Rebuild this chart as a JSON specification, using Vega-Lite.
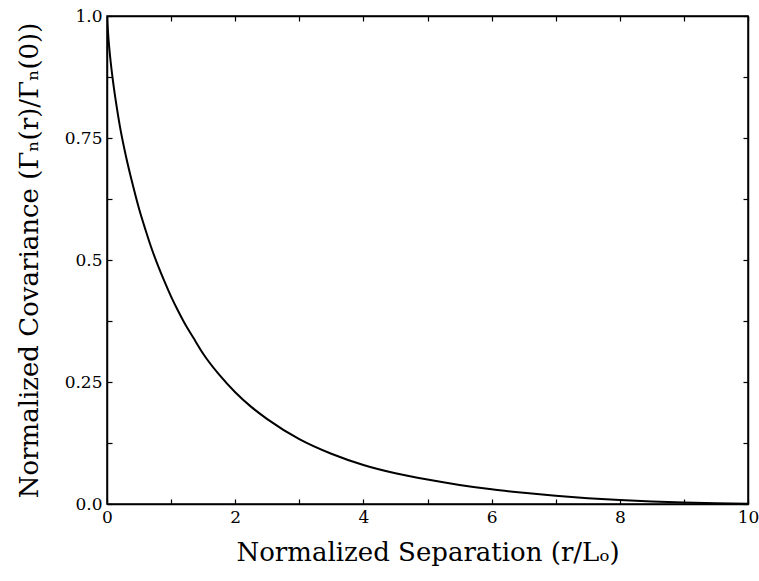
{
  "$schema": "https://vega.github.io/schema/vega-lite/v6.json",
  "autosize": "none",
  "width": 641,
  "height": 488,
  "padding": {"left": 107, "top": 16, "right": 11, "bottom": 77},
  "background": "white",
  "config": {
    "view": {"stroke": "black", "strokeWidth": 1.5},
    "font": "DejaVu Serif",
    "axis": {
      "domain": true, "domainColor": "black", "domainWidth": 1.5,
      "grid": false, "tickColor": "black", "tickSize": -5, "tickWidth": 1.2,
      "labelFont": "DejaVu Serif", "labelFontSize": 17, "labelColor": "black",
      "titleFont": "DejaVu Serif", "titleFontSize": 26, "titleFontWeight": "normal", "titleColor": "black"
    }
  },
  "data": {"values": [
    {"r": 0, "c": 1.0},
    {"r": 0.025, "c": 0.95},
    {"r": 0.05, "c": 0.915},
    {"r": 0.1, "c": 0.86},
    {"r": 0.15, "c": 0.815},
    {"r": 0.2, "c": 0.775},
    {"r": 0.3, "c": 0.71},
    {"r": 0.4, "c": 0.655},
    {"r": 0.5, "c": 0.605},
    {"r": 0.6, "c": 0.562},
    {"r": 0.7, "c": 0.522},
    {"r": 0.8, "c": 0.487},
    {"r": 0.9, "c": 0.455},
    {"r": 1.0, "c": 0.425},
    {"r": 1.1, "c": 0.398},
    {"r": 1.2, "c": 0.373},
    {"r": 1.35, "c": 0.34},
    {"r": 1.5, "c": 0.308},
    {"r": 1.75, "c": 0.265},
    {"r": 2.0, "c": 0.229},
    {"r": 2.25, "c": 0.199},
    {"r": 2.5, "c": 0.174},
    {"r": 3.0, "c": 0.133},
    {"r": 3.5, "c": 0.103},
    {"r": 4.0, "c": 0.08},
    {"r": 4.5, "c": 0.063},
    {"r": 5.0, "c": 0.05},
    {"r": 5.5, "c": 0.039},
    {"r": 6.0, "c": 0.03},
    {"r": 6.5, "c": 0.023},
    {"r": 7.0, "c": 0.017},
    {"r": 7.5, "c": 0.012},
    {"r": 8.0, "c": 0.008},
    {"r": 8.5, "c": 0.005},
    {"r": 9.0, "c": 0.003},
    {"r": 9.5, "c": 0.0015},
    {"r": 10.0, "c": 0.0005}
  ]},
  "layer": [
    {
      "mark": {"type": "line", "color": "black", "strokeWidth": 2, "interpolate": "monotone", "clip": true},
      "encoding": {
        "x": {"field": "r", "type": "quantitative", "scale": {"domain": [0, 10], "nice": false},
          "axis": {"orient": "bottom", "values": [0,1,2,3,4,5,6,7,8,9,10],
            "labelExpr": "datum.value % 2 == 0 ? datum.label : ''", "labelPadding": 10, "labelFlush": false,
            "title": "Normalized Separation (r/Lₒ)", "titlePadding": 14}},
        "y": {"field": "c", "type": "quantitative", "scale": {"domain": [0, 1], "nice": false},
          "axis": {"orient": "left", "values": [0,0.125,0.25,0.375,0.5,0.625,0.75,0.875,1],
            "labelExpr": "datum.value == 0 ? '0.0' : datum.value == 1 ? '1.0' : (datum.value * 4) % 1 == 0 ? format(datum.value, '.2~f') : ''",
            "labelPadding": 10, "labelFlush": false,
            "title": "Normalized Covariance (Γₙ(r)/Γₙ(0))", "titlePadding": 22}}
      }
    },
    {
      "mark": {"type": "line", "color": "black", "strokeWidth": 2, "opacity": 0},
      "encoding": {
        "x": {"field": "r", "type": "quantitative", "scale": {"domain": [0, 10], "nice": false},
          "axis": {"orient": "top", "values": [0,1,2,3,4,5,6,7,8,9,10], "labels": false, "title": null}},
        "y": {"field": "c", "type": "quantitative", "scale": {"domain": [0, 1], "nice": false},
          "axis": {"orient": "right", "values": [0,0.125,0.25,0.375,0.5,0.625,0.75,0.875,1], "labels": false, "title": null}}
      }
    }
  ],
  "resolve": {"axis": {"x": "independent", "y": "independent"}}
}
